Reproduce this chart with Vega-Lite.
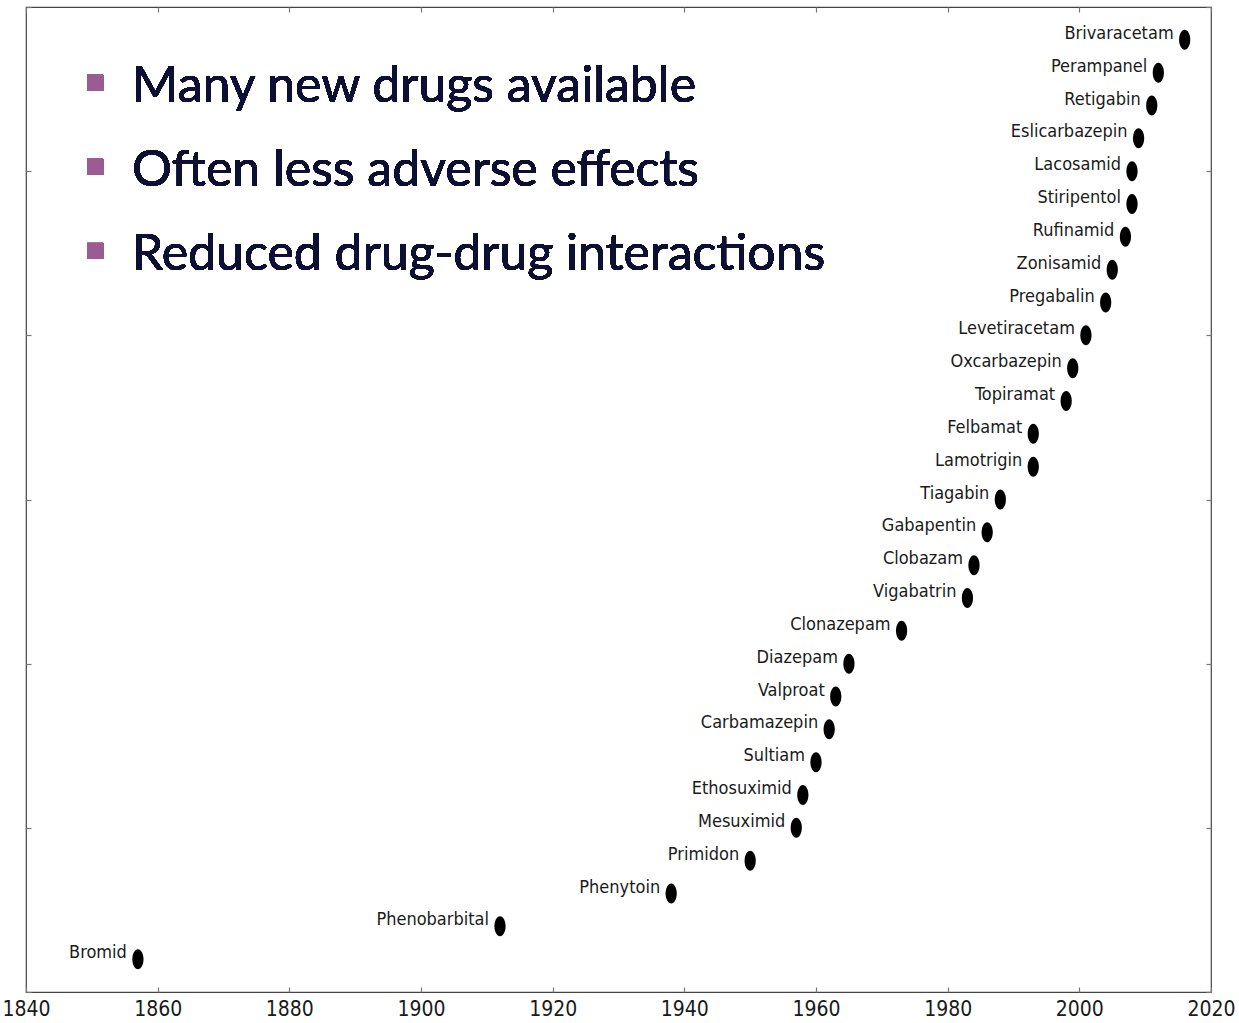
{
  "$schema": "https://vega.github.io/schema/vega-lite/v6.json",
  "width": 1185,
  "height": 985,
  "autosize": {"type": "none"},
  "padding": {"left": 26, "top": 7, "right": 28, "bottom": 31},
  "background": "white",
  "config": {
    "view": {"stroke": "#444444", "strokeWidth": 1.2},
    "axis": {
      "domain": false,
      "grid": false,
      "tickColor": "#777777",
      "tickSize": -5,
      "tickWidth": 1.2,
      "labelFont": "DejaVu Sans Condensed, sans-serif",
      "labelFontSize": 21,
      "labelColor": "#1a1a1a",
      "title": null
    }
  },
  "data": {
    "values": [
      {"drug": "Bromid", "year": 1857, "rank": 1},
      {"drug": "Phenobarbital", "year": 1912, "rank": 2},
      {"drug": "Phenytoin", "year": 1938, "rank": 3},
      {"drug": "Primidon", "year": 1950, "rank": 4},
      {"drug": "Mesuximid", "year": 1957, "rank": 5},
      {"drug": "Ethosuximid", "year": 1958, "rank": 6},
      {"drug": "Sultiam", "year": 1960, "rank": 7},
      {"drug": "Carbamazepin", "year": 1962, "rank": 8},
      {"drug": "Valproat", "year": 1963, "rank": 9},
      {"drug": "Diazepam", "year": 1965, "rank": 10},
      {"drug": "Clonazepam", "year": 1973, "rank": 11},
      {"drug": "Vigabatrin", "year": 1983, "rank": 12},
      {"drug": "Clobazam", "year": 1984, "rank": 13},
      {"drug": "Gabapentin", "year": 1986, "rank": 14},
      {"drug": "Tiagabin", "year": 1988, "rank": 15},
      {"drug": "Lamotrigin", "year": 1993, "rank": 16},
      {"drug": "Felbamat", "year": 1993, "rank": 17},
      {"drug": "Topiramat", "year": 1998, "rank": 18},
      {"drug": "Oxcarbazepin", "year": 1999, "rank": 19},
      {"drug": "Levetiracetam", "year": 2001, "rank": 20},
      {"drug": "Pregabalin", "year": 2004, "rank": 21},
      {"drug": "Zonisamid", "year": 2005, "rank": 22},
      {"drug": "Rufinamid", "year": 2007, "rank": 23},
      {"drug": "Stiripentol", "year": 2008, "rank": 24},
      {"drug": "Lacosamid", "year": 2008, "rank": 25},
      {"drug": "Eslicarbazepin", "year": 2009, "rank": 26},
      {"drug": "Retigabin", "year": 2011, "rank": 27},
      {"drug": "Perampanel", "year": 2012, "rank": 28},
      {"drug": "Brivaracetam", "year": 2016, "rank": 29}
    ]
  },
  "layer": [
    {
      "mark": {
        "type": "point",
        "filled": true,
        "color": "black",
        "opacity": 1,
        "size": 400,
        "shape": "M0,-1C0.309,-1 0.56,-0.552 0.56,0C0.56,0.552 0.309,1 0,1C-0.309,1 -0.56,0.552 -0.56,0C-0.56,-0.552 -0.309,-1 0,-1Z"
      },
      "encoding": {
        "x": {
          "field": "year",
          "type": "quantitative",
          "scale": {"domain": [1840, 2020], "nice": false, "zero": false},
          "axis": {
            "orient": "bottom",
            "values": [1840, 1860, 1880, 1900, 1920, 1940, 1960, 1980, 2000, 2020],
            "format": "d",
            "labelPadding": 11,
            "labelFlush": false,
            "labelOverlap": false
          }
        },
        "y": {
          "field": "rank",
          "type": "quantitative",
          "scale": {"domain": [0, 30], "nice": false, "zero": false},
          "axis": {
            "orient": "left",
            "values": [0, 5, 10, 15, 20, 25, 30],
            "labels": false
          }
        }
      }
    },
    {
      "mark": {
        "type": "text",
        "align": "right",
        "baseline": "alphabetic",
        "dx": -11,
        "dy": -1,
        "font": "DejaVu Sans Condensed, sans-serif",
        "fontSize": 18,
        "color": "#1a1a1a"
      },
      "encoding": {
        "x": {
          "field": "year",
          "type": "quantitative",
          "axis": {
            "orient": "top",
            "values": [1840, 1860, 1880, 1900, 1920, 1940, 1960, 1980, 2000, 2020],
            "labels": false
          }
        },
        "y": {
          "field": "rank",
          "type": "quantitative",
          "axis": {
            "orient": "right",
            "values": [0, 5, 10, 15, 20, 25, 30],
            "labels": false
          }
        },
        "text": {"field": "drug"}
      }
    },
    {
      "mark": {
        "type": "text",
        "align": "left",
        "baseline": "alphabetic",
        "font": "Lato",
        "fontSize": 50,
        "lineHeight": 84,
        "color": "#0d0f33",
        "text": ["Many new drugs available", "Often less adverse effects", "Reduced drug-drug interactions"]
      },
      "encoding": {
        "x": {"datum": 1856.1, "type": "quantitative", "axis": null},
        "y": {"datum": 27.11, "type": "quantitative", "axis": null}
      }
    },
    {
      "mark": {"type": "point", "shape": "square", "filled": true, "opacity": 1, "size": 256, "color": "#9b5b93"},
      "encoding": {
        "x": {"datum": 1850.5, "type": "quantitative", "axis": null},
        "y": {"datum": 27.69, "type": "quantitative", "axis": null}
      }
    },
    {
      "mark": {"type": "point", "shape": "square", "filled": true, "opacity": 1, "size": 256, "color": "#9b5b93"},
      "encoding": {
        "x": {"datum": 1850.5, "type": "quantitative", "axis": null},
        "y": {"datum": 25.13, "type": "quantitative", "axis": null}
      }
    },
    {
      "mark": {"type": "point", "shape": "square", "filled": true, "opacity": 1, "size": 256, "color": "#9b5b93"},
      "encoding": {
        "x": {"datum": 1850.5, "type": "quantitative", "axis": null},
        "y": {"datum": 22.57, "type": "quantitative", "axis": null}
      }
    }
  ],
  "resolve": {"axis": {"x": "independent", "y": "independent"}}
}
